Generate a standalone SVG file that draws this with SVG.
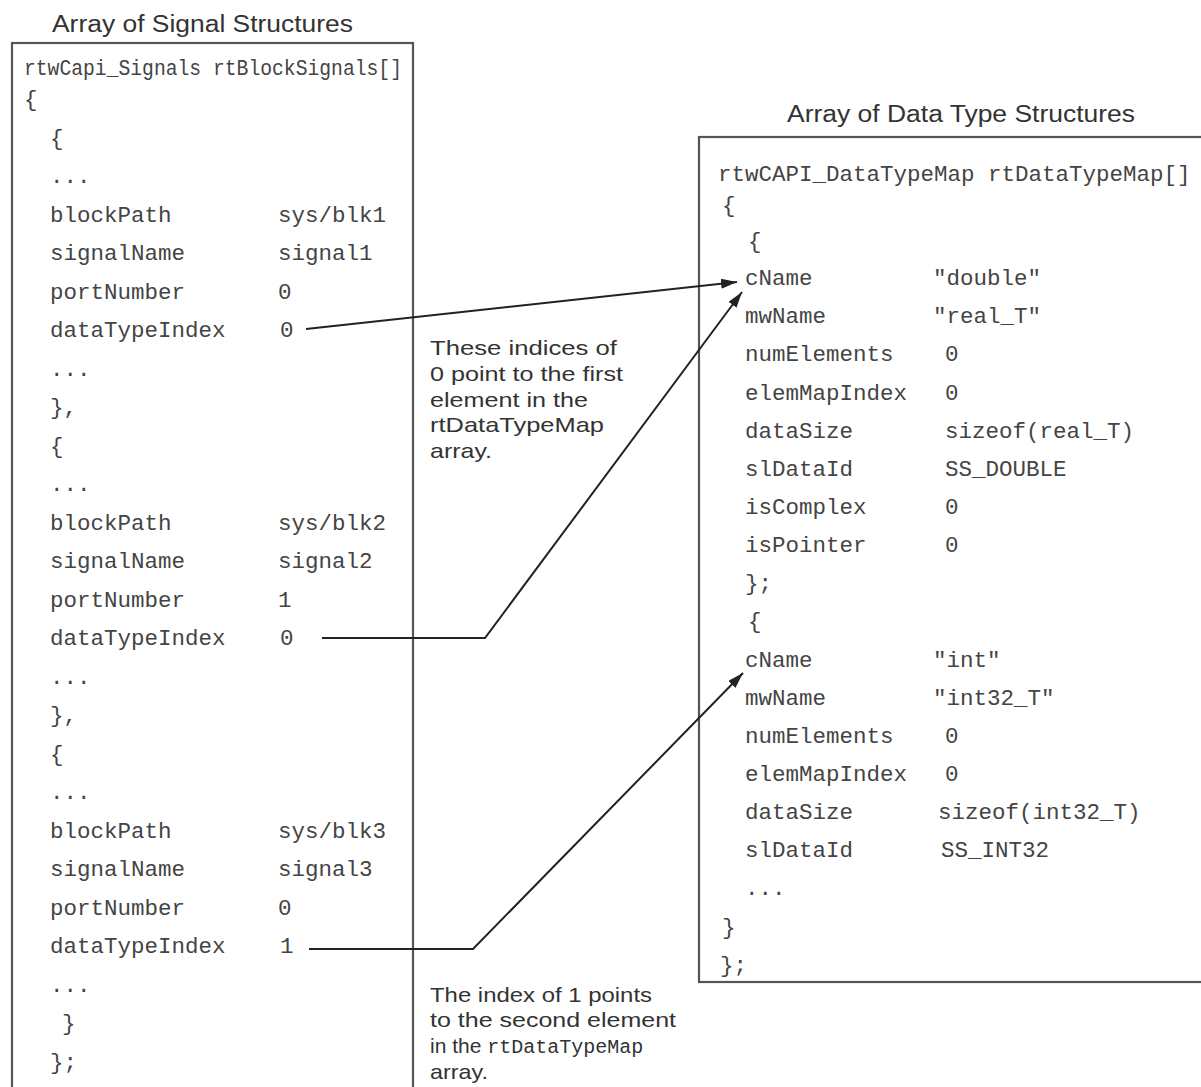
<svg xmlns="http://www.w3.org/2000/svg" width="1201" height="1087" viewBox="0 0 1201 1087">
<style>
.title{font-family:"Liberation Sans",Arial,sans-serif;font-size:23px;fill:#333}
.note{font-family:"Liberation Sans",Arial,sans-serif;font-size:21px;fill:#333}
.code{font-family:"Liberation Mono","DejaVu Sans Mono",monospace;font-size:22.5px;fill:#444}
.box{fill:#fff;stroke:#555;stroke-width:2.2}
.conn{fill:none;stroke:#222;stroke-width:2}
</style>
<defs>
<marker id="ah" viewBox="0 0 16 10" refX="16" refY="5" markerWidth="16" markerHeight="10" markerUnits="userSpaceOnUse" orient="auto">
<path d="M0,0 L16,5 L0,10 Z" fill="#222"/>
</marker>
</defs>
<rect width="1201" height="1087" fill="#fff"/>

<g id="signals">
<text class="title" x="52" y="32" textLength="301" lengthAdjust="spacingAndGlyphs">Array of Signal Structures</text>
<rect class="box" x="12" y="43" width="401" height="1060"/>
<text class="code" x="24" y="75" textLength="378" lengthAdjust="spacingAndGlyphs">rtwCapi_Signals rtBlockSignals[]</text>
<text class="code" x="24" y="106">{</text>
<text class="code" x="50" y="145">{</text>
<text class="code" x="50" y="183">...</text>
<text class="code" x="50" y="221.5">blockPath</text><text class="code" x="278" y="221.5">sys/blk1</text>
<text class="code" x="50" y="260">signalName</text><text class="code" x="278" y="260">signal1</text>
<text class="code" x="50" y="298.5">portNumber</text><text class="code" x="278" y="298.5">0</text>
<text class="code" x="50" y="337">dataTypeIndex</text><text class="code" x="280" y="337">0</text>
<text class="code" x="50" y="375.5">...</text>
<text class="code" x="50" y="414">},</text>
<text class="code" x="50" y="452.5">{</text>
<text class="code" x="50" y="491">...</text>
<text class="code" x="50" y="529.5">blockPath</text><text class="code" x="278" y="529.5">sys/blk2</text>
<text class="code" x="50" y="568">signalName</text><text class="code" x="278" y="568">signal2</text>
<text class="code" x="50" y="606.5">portNumber</text><text class="code" x="278" y="606.5">1</text>
<text class="code" x="50" y="645">dataTypeIndex</text><text class="code" x="280" y="645">0</text>
<text class="code" x="50" y="683.5">...</text>
<text class="code" x="50" y="722">},</text>
<text class="code" x="50" y="760.5">{</text>
<text class="code" x="50" y="799">...</text>
<text class="code" x="50" y="837.5">blockPath</text><text class="code" x="278" y="837.5">sys/blk3</text>
<text class="code" x="50" y="876">signalName</text><text class="code" x="278" y="876">signal3</text>
<text class="code" x="50" y="914.5">portNumber</text><text class="code" x="278" y="914.5">0</text>
<text class="code" x="50" y="953">dataTypeIndex</text><text class="code" x="280" y="953">1</text>
<text class="code" x="50" y="991.5">...</text>
<text class="code" x="62" y="1030">}</text>
<text class="code" x="50" y="1068.5">};</text>
</g>

<g id="datatypes">
<text class="title" x="787" y="122" textLength="348" lengthAdjust="spacingAndGlyphs">Array of Data Type Structures</text>
<rect class="box" x="699" y="137" width="520" height="845"/>
<text class="code" x="718" y="181">rtwCAPI_DataTypeMap rtDataTypeMap[]</text>
<text class="code" x="722" y="212">{</text>
<text class="code" x="748" y="248">{</text>
<text class="code" x="745" y="285">cName</text><text class="code" x="933" y="285">"double"</text>
<text class="code" x="745" y="323">mwName</text><text class="code" x="933" y="323">"real_T"</text>
<text class="code" x="745" y="361">numElements</text><text class="code" x="945" y="361">0</text>
<text class="code" x="745" y="399.5">elemMapIndex</text><text class="code" x="945" y="399.5">0</text>
<text class="code" x="745" y="437.5">dataSize</text><text class="code" x="945" y="437.5">sizeof(real_T)</text>
<text class="code" x="745" y="475.5">slDataId</text><text class="code" x="945" y="475.5">SS_DOUBLE</text>
<text class="code" x="745" y="514">isComplex</text><text class="code" x="945" y="514">0</text>
<text class="code" x="745" y="552">isPointer</text><text class="code" x="945" y="552">0</text>
<text class="code" x="745" y="590">};</text>
<text class="code" x="748" y="628">{</text>
<text class="code" x="745" y="666.5">cName</text><text class="code" x="933" y="666.5">"int"</text>
<text class="code" x="745" y="704.5">mwName</text><text class="code" x="933" y="704.5">"int32_T"</text>
<text class="code" x="745" y="742.5">numElements</text><text class="code" x="945" y="742.5">0</text>
<text class="code" x="745" y="781">elemMapIndex</text><text class="code" x="945" y="781">0</text>
<text class="code" x="745" y="819">dataSize</text><text class="code" x="938" y="819">sizeof(int32_T)</text>
<text class="code" x="745" y="857">slDataId</text><text class="code" x="941" y="857">SS_INT32</text>
<text class="code" x="745" y="895">...</text>
<text class="code" x="722" y="933.5">}</text>
<text class="code" x="720" y="971.5">};</text>
</g>

<g id="connectors">
<line class="conn" x1="306" y1="329" x2="737" y2="282" marker-end="url(#ah)"/>
<polyline class="conn" points="322,638 485,638 742,292" marker-end="url(#ah)"/>
<polyline class="conn" points="309,949 473,949 743,673" marker-end="url(#ah)"/>
</g>

<g id="note-first">
<text class="note" x="430" y="355" textLength="187" lengthAdjust="spacingAndGlyphs">These indices of</text>
<text class="note" x="430" y="381" textLength="193" lengthAdjust="spacingAndGlyphs">0 point to the first</text>
<text class="note" x="430" y="407" textLength="158" lengthAdjust="spacingAndGlyphs">element in the</text>
<text class="note" x="430" y="432" textLength="174" lengthAdjust="spacingAndGlyphs">rtDataTypeMap</text>
<text class="note" x="430" y="458" textLength="62" lengthAdjust="spacingAndGlyphs">array.</text>
</g>

<g id="note-second">
<text class="note" x="430" y="1002" textLength="222" lengthAdjust="spacingAndGlyphs">The index of 1 points</text>
<text class="note" x="430" y="1027" textLength="246" lengthAdjust="spacingAndGlyphs">to the second element</text>
<text class="note" x="430" y="1053">in the <tspan font-family="Liberation Mono, monospace" font-size="20">rtDataTypeMap</tspan></text>
<text class="note" x="430" y="1079" textLength="58" lengthAdjust="spacingAndGlyphs">array.</text>
</g>
</svg>
